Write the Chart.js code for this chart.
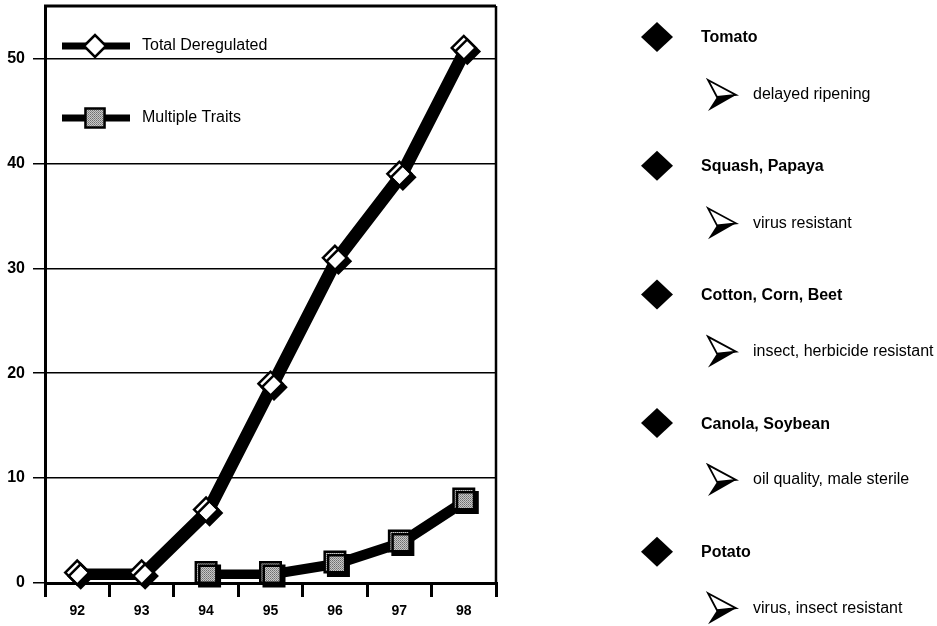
<!DOCTYPE html>
<html>
<head>
<meta charset="utf-8">
<script src="https://cdn.jsdelivr.net/npm/chart.js@4"></script>
<style>
html,body{margin:0;padding:0;background:#fff;}
#wrap{width:937px;height:626px;}
</style>
</head>
<body>
<div id="wrap"><canvas id="grafica" width="937" height="626"></canvas></div>
<script>
// datos
var anios = ['92','93','94','95','96','97','98'];
var totalDesregulados = [1, 1, 7, 19, 31, 39, 51];
var rasgosMultiples = [null, null, 1, 1, 2, 4, 8];
var marcasY = [0, 10, 20, 30, 40, 50];
var cultivos = ['Tomato', 'Squash, Papaya', 'Cotton, Corn, Beet', 'Canola, Soybean', 'Potato'];
var rasgos = ['delayed ripening', 'virus resistant', 'insect, herbicide resistant', 'oil quality, male sterile', 'virus, insect resistant'];

var fuente = '"Liberation Sans", Arial, Helvetica, sans-serif';

// relleno punteado gris para los cuadrados
function tramaGris(){
    var c = document.createElement('canvas');
    c.width = 2; c.height = 2;
    var x = c.getContext('2d');
    x.fillStyle = '#c8c8c8'; x.fillRect(0,0,2,2);
    x.fillStyle = '#6e6e6e'; x.fillRect(0,0,1,1);
    x.fillStyle = '#8a8a8a'; x.fillRect(1,1,1,1);
    return x.createPattern(c, 'repeat');
}
var trama = tramaGris();

/**
 * Marco superior y derecho del area
 */
var marco = {
    id: 'marco',
    beforeDatasetsDraw: function(chart){
        var ctx = chart.ctx, a = chart.chartArea;
        ctx.save();
        ctx.strokeStyle = '#000';
        ctx.lineWidth = 3;
        ctx.beginPath();
        ctx.moveTo(a.left - 1, a.top);
        ctx.lineTo(a.right, a.top);
        ctx.stroke();
        ctx.lineWidth = 2.5;
        ctx.beginPath();
        ctx.moveTo(a.right, a.top);
        ctx.lineTo(a.right, a.bottom);
        ctx.stroke();
        ctx.restore();
    }
};

/**
 * Sombra negra bajo lineas y marcadores
 */
var sombra = {
    id: 'sombra',
    beforeDatasetsDraw: function(chart){
        var ctx = chart.ctx;
        ctx.save();
        ctx.shadowColor = '#000';
        ctx.shadowOffsetX = 3.5;
        ctx.shadowOffsetY = 3.5;
        ctx.shadowBlur = 0;
    },
    afterDatasetsDraw: function(chart){
        chart.ctx.restore();
    }
};

/**
 * Leyenda dentro del area (linea + marcador)
 */
var leyenda = {
    id: 'leyenda',
    afterDraw: function(chart){
        var ctx = chart.ctx;
        ctx.save();
        chart.data.datasets.forEach(function(ds, i){
            var y = 46 + i * 72;
            ctx.strokeStyle = '#000';
            ctx.lineWidth = 7;
            ctx.beginPath();
            ctx.moveTo(62, y);
            ctx.lineTo(130, y);
            ctx.stroke();
            ctx.fillStyle = ds.pointBackgroundColor;
            ctx.strokeStyle = '#000';
            ctx.lineWidth = ds.pointBorderWidth;
            Chart.helpers.drawPoint(ctx, {
                pointStyle: ds.pointStyle,
                radius: ds.pointRadius - 1,
                rotation: 0,
                borderWidth: ds.pointBorderWidth
            }, 95, y);
            ctx.fillStyle = '#000';
            ctx.font = '16px ' + fuente;
            ctx.textBaseline = 'middle';
            ctx.textAlign = 'left';
            ctx.fillText(ds.label, 142, y);
        });
        ctx.restore();
    }
};

function flecha(ctx, x, y){
    ctx.beginPath();
    ctx.moveTo(x, y - 15);
    ctx.lineTo(x + 28, y);
    ctx.lineTo(x + 9, y + 2);
    ctx.closePath();
    ctx.fillStyle = '#fff';
    ctx.fill();
    ctx.strokeStyle = '#000';
    ctx.lineWidth = 1.8;
    ctx.lineJoin = 'miter';
    ctx.stroke();
    ctx.beginPath();
    ctx.moveTo(x + 9, y + 2);
    ctx.lineTo(x + 28, y);
    ctx.lineTo(x, y + 16);
    ctx.closePath();
    ctx.fillStyle = '#000';
    ctx.fill();
}

/**
 * Lista de cultivos y rasgos a la derecha
 */
var lista = {
    id: 'lista',
    afterDraw: function(chart){
        var ctx = chart.ctx;
        ctx.save();
        ctx.textBaseline = 'middle';
        ctx.textAlign = 'left';
        for (var i = 0; i < cultivos.length; i++) {
            var yc = 37 + i * 128.7;
            var yr = 95 + i * 128.3;
            ctx.fillStyle = '#000';
            ctx.beginPath();
            ctx.moveTo(657, yc - 15);
            ctx.lineTo(673, yc);
            ctx.lineTo(657, yc + 15);
            ctx.lineTo(641, yc);
            ctx.closePath();
            ctx.fill();
            ctx.font = 'bold 16px ' + fuente;
            ctx.fillText(cultivos[i], 701, yc + 1);
            flecha(ctx, 708, yr);
            ctx.fillStyle = '#000';
            ctx.font = '16px ' + fuente;
            ctx.fillText(rasgos[i], 753, yr);
        }
        ctx.restore();
    }
};

var ctx = document.getElementById('grafica').getContext('2d');
var miGrafica = new Chart(ctx, {
    type: 'line',
    data: {
        labels: anios,
        datasets: [{
            label: 'Total Deregulated',
            data: totalDesregulados,
            borderColor: '#000',
            borderWidth: 8,
            pointStyle: 'rectRot',
            pointRadius: 12,
            pointBackgroundColor: '#fff',
            pointBorderColor: '#000',
            pointBorderWidth: 2.5,
            clip: false,
            tension: 0
        }, {
            label: 'Multiple Traits',
            data: rasgosMultiples,
            borderColor: '#000',
            borderWidth: 6,
            pointStyle: 'rect',
            pointRadius: 14.5,
            pointBackgroundColor: trama,
            pointBorderColor: '#000',
            pointBorderWidth: 2.5,
            clip: false,
            tension: 0
        }]
    },
    options: {
        responsive: false,
        animation: false,
        events: [],
        layout: {
            autoPadding: false,
            padding: { top: 6, right: 441, left: 0, bottom: 0 }
        },
        plugins: {
            legend: { display: false },
            tooltip: { enabled: false }
        },
        scales: {
            x: {
                offset: true,
                grid: {
                    offset: true,
                    drawOnChartArea: false,
                    color: '#000',
                    lineWidth: 3,
                    tickLength: 14
                },
                border: { display: true, color: '#000', width: 3 },
                ticks: {
                    color: '#000',
                    font: { family: fuente, size: 14, weight: 'bold' },
                    padding: 6
                },
                afterFit: function(scale){
                    scale.height = 43;
                    scale.paddingLeft = 0;
                    scale.paddingRight = 0;
                }
            },
            y: {
                min: 0,
                max: 55,
                grid: {
                    color: '#000',
                    lineWidth: 1.5,
                    tickLength: 12
                },
                border: { display: true, color: '#000', width: 3 },
                ticks: {
                    color: '#000',
                    font: { family: fuente, size: 16, weight: 'bold' },
                    padding: 8
                },
                afterBuildTicks: function(scale){
                    scale.ticks = marcasY.map(function(v){ return { value: v }; });
                },
                afterFit: function(scale){
                    scale.width = 45;
                    scale.paddingTop = 0;
                    scale.paddingBottom = 0;
                }
            }
        }
    },
    plugins: [marco, sombra, leyenda, lista]
});
</script>
</body>
</html>
